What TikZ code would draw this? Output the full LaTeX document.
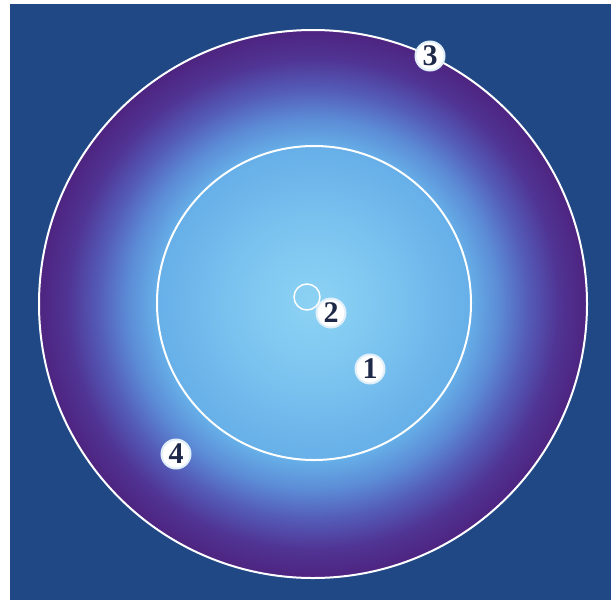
\documentclass[tikz,border=0pt]{standalone}
\usepackage{fontspec}
\setmainfont{Liberation Serif}
\usepackage{xcolor}
\usepackage{tikz}
\usetikzlibrary{positioning}

\definecolor{bgblue}{RGB}{31,72,132}
\definecolor{numink}{RGB}{30,40,72}
\definecolor{zoneA}{RGB}{140,210,244}
\definecolor{zoneB}{RGB}{128,200,241}
\definecolor{zoneC}{RGB}{102,175,232}
\definecolor{zoneD}{RGB}{92,140,214}
\definecolor{zoneE}{RGB}{84,92,184}
\definecolor{zoneF}{RGB}{80,52,148}
\definecolor{zoneG}{RGB}{78,36,128}

\pgfdeclareradialshading{zoneshade}{\pgfpointorigin}{%
  color(0bp)=(zoneA); color(5.5bp)=(zoneB); color(14.3bp)=(zoneC);
  color(16.9bp)=(zoneD); color(19.6bp)=(zoneE); color(22.4bp)=(zoneF);
  color(25bp)=(zoneG); color(50bp)=(zoneG)}

\begin{document}
\begin{tikzpicture}[
  x=1pt, y=-1pt,
  ring/.style={
    circle,
    draw=white,
    inner sep=0pt,
    outer sep=0pt
  },
  marker/.style={
    circle,
    fill=white,
    draw=white!80!zoneC,
    line width=2pt,
    inner sep=0pt,
    minimum size=29pt,
    text=numink,
    font=\fontsize{30}{30}\selectfont\bfseries
  }
]

  \useasboundingbox (0,0) rectangle (615,600);
  \fill[bgblue] (10,4) rectangle (611,600);

  % Rings
  \node (outer) [ring, shading=zoneshade, line width=2pt, minimum size=548pt] at (313,304) {};
  \node (inner) [ring, line width=2pt, minimum size=314pt] at (314,303) {};
  \node (core)  [ring, line width=1.5pt, minimum size=26pt] at (307,297) {};

  % Markers
  \node (m1) [marker] at (370,369) {1};
  \node (m2) [marker] at (331,313) {2};
  \node (m3) [marker] at (430,56)  {3};
  \node (m4) [marker] at (176,454) {4};

\end{tikzpicture}
\end{document}
